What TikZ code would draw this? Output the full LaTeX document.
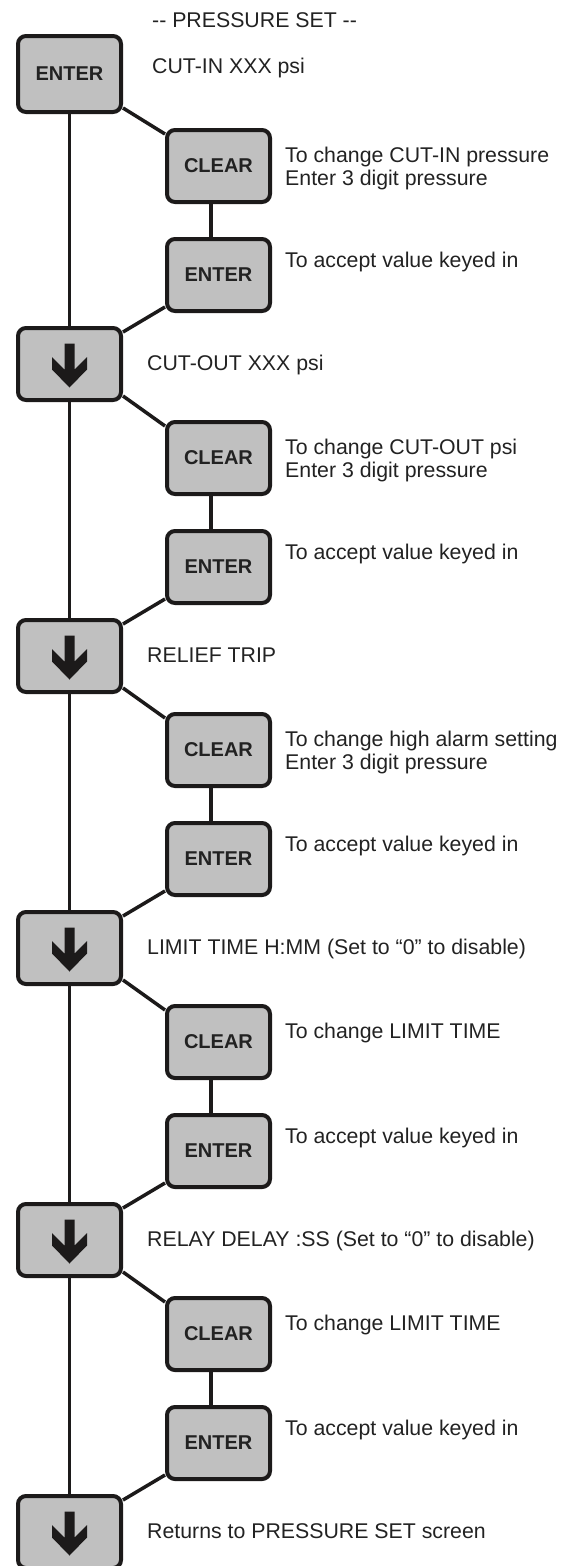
\documentclass[tikz,border=0pt]{standalone}
\usepackage{fontspec}
\setmainfont{Liberation Sans}
\usetikzlibrary{positioning,backgrounds}

\definecolor{keygray}{HTML}{C0C0C0}
\definecolor{linecol}{HTML}{1C1A1A}
\definecolor{textcol}{HTML}{222222}

\tikzset{
  key/.style={draw=linecol, fill=keygray, line width=4pt, rounded corners=8pt,
    minimum width=103pt, minimum height=72pt, inner sep=0pt,
    text=textcol, font=\fontsize{20}{22}\selectfont\bfseries},
  wire/.style={draw=linecol, line width=3.5pt},
  info/.style={anchor=base west, inner sep=0pt, align=left, text=textcol,
    font=\fontsize{21.3}{23}\selectfont}
}

\begin{document}
\begin{tikzpicture}[x=1pt, y=-1pt]
  % Define the step from one row of keys to the next
  \def\period{292}

  \useasboundingbox (0,0) rectangle (574,1566);

  % Title
  \node[info] (title) at (152,27) {-{}- PRESSURE SET -{}-};

  % Left column of keys
  \node[key, minimum height=76pt] (L0) at (69.5,74) {ENTER};
  \node[info] (S0) at (152,73) {CUT-IN XXX psi};
  \foreach \k/\txt in {1/CUT-OUT XXX psi, 2/RELIEF TRIP,
      3/LIMIT TIME H:MM (Set to “0” to disable),
      4/RELAY DELAY :SS (Set to “0” to disable),
      5/Returns to PRESSURE SET screen} {
    \node[key] (L\k) at (69.5, {72+\period*\k}) {};
    \fill[linecol, shift={(L\k.center)}] (-5,-20.5) -- (5,-20.5) -- (5,5.5)
      -- (17.5,-6.8) -- (17.5,5.5) -- (0,23.5) -- (-17.5,5.5) -- (-17.5,-6.8)
      -- (-5,5.5) -- cycle;
    \node[info] (S\k) at ([shift={(77.5,6.5)}]L\k.center) {\txt};
  }

  % Right column: CLEAR and ENTER pairs (dy puts the last line's baseline)
  \foreach \k/\dy/\txt in {0/19/{To change CUT-IN pressure\\Enter 3 digit pressure},
      1/19/{To change CUT-OUT psi\\Enter 3 digit pressure},
      2/19/{To change high alarm setting\\Enter 3 digit pressure},
      3/-4/To change LIMIT TIME, 4/-4/To change LIMIT TIME} {
    \node[key] (C\k) at (218.5, {166+\period*\k}) {CLEAR};
    \node[key] (E\k) at (218.5, {275+\period*\k}) {ENTER};
    \node[info] (D\k) at ([shift={(66.5,\dy)}]C\k.center) {\txt};
    \node[info] (A\k) at ([shift={(66.5,-7.5)}]E\k.center) {To accept value keyed in};
  }

  % Connectors behind the keys
  \begin{scope}[on background layer]
    \foreach \k [count=\n] in {0,...,4} {
      \draw[wire] (L\k) -- (L\n);
      \draw[wire] ([yshift=6pt]L\k.south east) -- ([yshift=-6pt]C\k.north west);
      \draw[wire] ([xshift=-7.5pt]C\k.south) -- ([xshift=-7.5pt]E\k.north);
      \draw[wire] ([yshift=6pt]E\k.south west) -- ([yshift=-6pt]L\n.north east);
    }
  \end{scope}
\end{tikzpicture}
\end{document}
